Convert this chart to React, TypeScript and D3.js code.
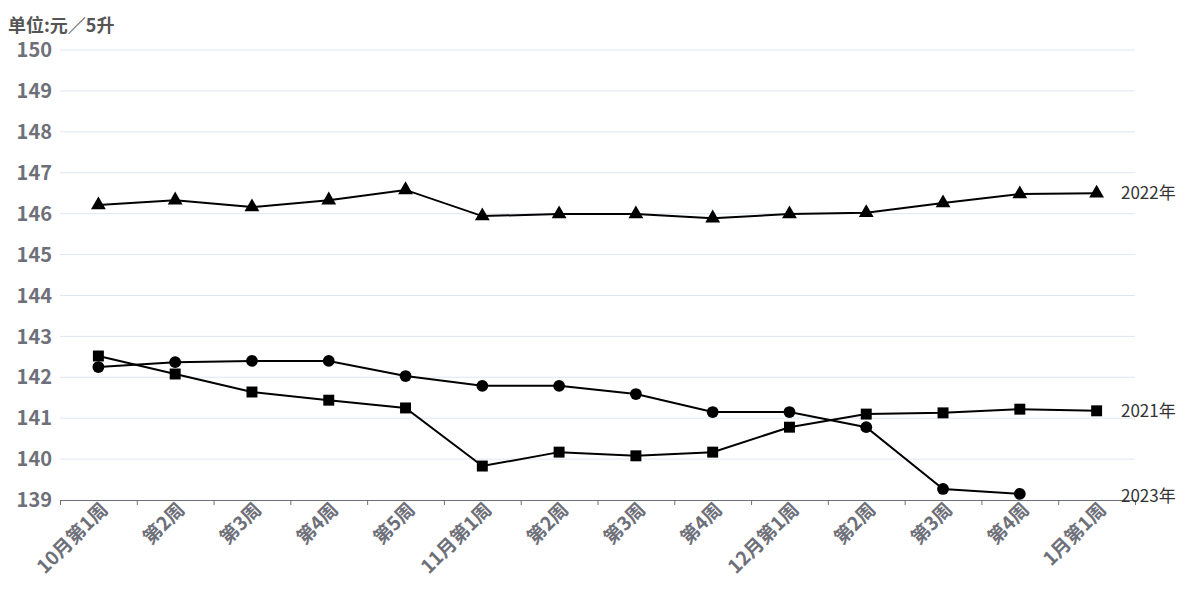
import React, { useEffect, useRef } from 'react';
import * as d3 from 'd3';

// weekly labels along the x axis
const weeks = ['10月第1周', '第2周', '第3周', '第4周', '第5周', '11月第1周', '第2周', '第3周', '第4周', '12月第1周', '第2周', '第3周', '第4周', '1月第1周'];

// price per 5L
const y2022 = [146.21, 146.33, 146.16, 146.33, 146.58, 145.94, 145.99, 145.99, 145.89, 145.99, 146.02, 146.26, 146.48, 146.50];
const y2021 = [142.52, 142.08, 141.64, 141.44, 141.25, 139.83, 140.17, 140.08, 140.17, 140.78, 141.10, 141.13, 141.22, 141.18];
const y2023 = [142.25, 142.37, 142.40, 142.40, 142.03, 141.79, 141.79, 141.59, 141.15, 141.15, 140.78, 139.27, 139.15];

const yTicks = [139, 140, 141, 142, 143, 144, 145, 146, 147, 148, 149, 150];

const App: React.FC = () => {
    const ref = useRef<SVGSVGElement>(null);

    useEffect(() => {
        const svg = d3.select(ref.current);
        svg.selectAll('*').remove();

        const width = 1200;
        const height = 600;
        const marginLeft = 60;
        const marginRight = 65;
        const marginTop = 50;
        const marginBottom = 100;
        const font = '"Noto Sans CJK SC", "Noto Sans", sans-serif';

        // use index as band key since labels repeat
        const x = d3.scaleBand<number>()
            .domain(weeks.map((_, i) => i))
            .range([marginLeft, width - marginRight]);

        const y = d3.scaleLinear()
            .domain([139, 150])
            .range([height - marginBottom, marginTop]);

        const cx = (i: number) => x(i)! + x.bandwidth() / 2;

        // grid
        svg.append('g')
            .selectAll('line')
            .data(yTicks.filter(d => d !== 139))
            .join('line')
            .attr('x1', marginLeft)
            .attr('x2', width - marginRight)
            .attr('y1', d => y(d))
            .attr('y2', d => y(d))
            .attr('stroke', '#e0e6f1')
            .attr('stroke-width', 1);

        // y labels
        svg.append('g')
            .selectAll('text')
            .data(yTicks)
            .join('text')
            .attr('x', 52)
            .attr('y', d => y(d))
            .attr('dy', '0.36em')
            .attr('text-anchor', 'end')
            .attr('fill', '#6e7079')
            .attr('font-family', font)
            .attr('font-weight', 'bold')
            .attr('font-size', 20)
            .text(d => d);

        // x axis line + ticks at band edges
        const xAxis = svg.append('g');
        xAxis.append('line')
            .attr('x1', marginLeft)
            .attr('x2', width - marginRight)
            .attr('y1', y(139) + 0.5)
            .attr('y2', y(139) + 0.5)
            .attr('stroke', '#6e7079');
        xAxis.selectAll('line.tick')
            .data(d3.range(weeks.length + 1))
            .join('line')
            .attr('class', 'tick')
            .attr('x1', i => marginLeft + i * x.step() + 0.5)
            .attr('x2', i => marginLeft + i * x.step() + 0.5)
            .attr('y1', y(139))
            .attr('y2', y(139) + 5)
            .attr('stroke', '#6e7079');
        xAxis.selectAll('text')
            .data(weeks)
            .join('text')
            .attr('transform', (_, i) => `translate(${cx(i) + 6},${y(139) + 6}) rotate(-45)`)
            .attr('text-anchor', 'end')
            .attr('dy', '0.35em')
            .attr('fill', '#6e7079')
            .attr('font-family', font)
            .attr('font-weight', 'bold')
            .attr('font-size', 19)
            .text(d => d);

        // unit title
        svg.append('text')
            .attr('x', 8)
            .attr('y', 32)
            .attr('fill', '#555')
            .attr('font-family', font)
            .attr('font-weight', 'bold')
            .attr('font-size', 18)
            .text('单位:元／5升');

        const line = d3.line<number>()
            .x((_, i) => cx(i))
            .y(d => y(d));

        const series = [
            { name: '2022年', values: y2022, symbol: d3.symbolTriangle, size: 95, labelY: y(y2022[y2022.length - 1]) },
            { name: '2021年', values: y2021, symbol: d3.symbolSquare, size: 120, labelY: y(y2021[y2021.length - 1]) },
            { name: '2023年', values: y2023, symbol: d3.symbolCircle, size: 110, labelY: y(y2023[y2023.length - 1]) + 2 },
        ];

        series.forEach(s => {
            svg.append('path')
                .datum(s.values)
                .attr('fill', 'none')
                .attr('stroke', '#000')
                .attr('stroke-width', 2)
                .attr('d', line);

            svg.append('g')
                .selectAll('path')
                .data(s.values)
                .join('path')
                .attr('transform', (d, i) => `translate(${cx(i)},${y(d)})`)
                .attr('d', d3.symbol().type(s.symbol).size(s.size)())
                .attr('fill', '#000');

            svg.append('text')
                .attr('x', 1121)
                .attr('y', s.labelY)
                .attr('dy', '0.35em')
                .attr('fill', '#333')
                .attr('font-family', font)
                .attr('font-size', 17)
                .text(s.name);
        });
    }, []);

    return <svg ref={ref} width={1200} height={600} style={{ display: 'block', position: 'absolute', left: 0, top: 0 }} />;
};

export default App;
